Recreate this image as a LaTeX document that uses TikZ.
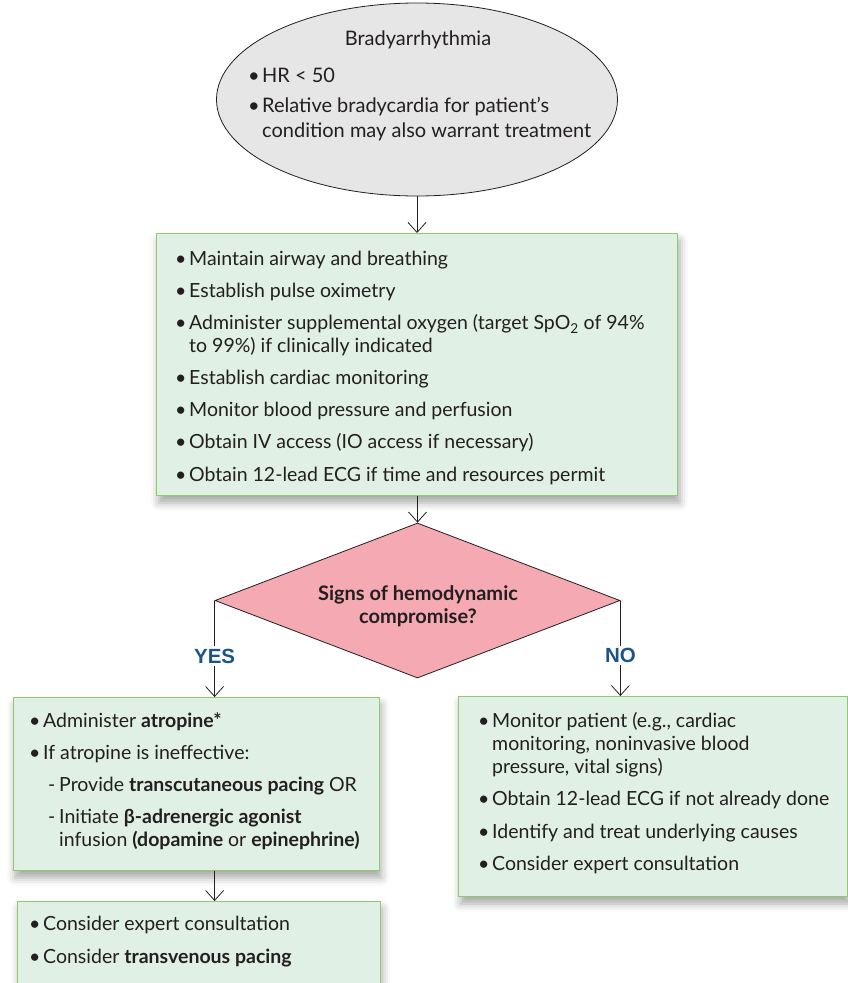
\documentclass[tikz,border=0pt]{standalone}
\usepackage{fontspec}
\setmainfont{Lato}
\newfontfamily\labelfont{Liberation Sans}
\usetikzlibrary{arrows.meta,shapes.geometric,shadows.blur}

\definecolor{ink}{HTML}{231F20}
\definecolor{boxfill}{HTML}{E1F0E4}
\definecolor{boxline}{HTML}{8FC970}
\definecolor{pinkfill}{HTML}{F5AAB3}
\definecolor{greyfill}{HTML}{E6E6E7}
\definecolor{labelblue}{HTML}{1B5487}

% list layout: #1 = font size, #2 = baseline skip, #3 = extra space between items (pt)
\newcommand\listfont[3]{\fontsize{#1}{#2}\selectfont\setlength\parskip{#3pt}\raggedright}
% bulleted item with hanging indent
\newcommand\itm[1]{\par\hangindent=14pt\hangafter=1\noindent\makebox[14pt][l]{•}#1}
% dashed sub-item
\newcommand\subitm[1]{\par\hangindent=30pt\hangafter=1\noindent\hspace*{19pt}\makebox[11pt][l]{-}#1}

\begin{document}
\begin{tikzpicture}[x=1pt,y=-1pt,
  box/.style={rectangle, draw=boxline, line width=1.3pt, fill=boxfill, anchor=north west, inner sep=0pt,
    blur shadow={shadow xshift=2pt, shadow yshift=-7pt, shadow blur radius=8pt, shadow opacity=35}},
  txt/.style={anchor=base west, inner sep=0pt, text=ink},
  arr/.style={draw=ink, line width=0.8pt, -{Straight Barb[length=10pt,width=18pt,line width=0.8pt]}},
  lbl/.style={fill=white, inner sep=2.5pt, text=labelblue, font=\labelfont\bfseries\fontsize{20.5}{22}\selectfont}
]
\useasboundingbox (0,0) rectangle (848,983);

% start: bradyarrhythmia
\node[ellipse, draw=ink, line width=0.8pt, fill=greyfill, minimum width=401pt, minimum height=193pt, inner sep=0pt] (ell) at (417,99.5) {};
\node[anchor=base, inner sep=0pt, text=ink, font=\fontsize{20}{24}\selectfont] (ttl) at (418,45.5) {Bradyarrhythmia};
\node[txt] (ellt) at (248,82) {\parbox[t]{380pt}{\listfont{20}{25}{5}
  \itm{HR < 50}
  \itm{Relative bradycardia for patient’s\newline condition may also warrant treatment}}};

% initial measures
\node[box, minimum width=521pt, minimum height=262pt] (b1) at (156,233) {};
\node[txt] (b1t) at (175,265.5) {\parbox[t]{500pt}{\listfont{19.5}{22.4}{9.8}
  \itm{Maintain airway and breathing}
  \itm{Establish pulse oximetry}
  \itm{Administer supplemental oxygen (target SpO\textsubscript{2} of 94\%\newline to 99\%) if clinically indicated}
  \itm{Establish cardiac monitoring}
  \itm{Monitor blood pressure and perfusion}
  \itm{Obtain IV access (IO access if necessary)}
  \itm{Obtain 12-lead ECG if time and resources permit}}};

% decision
\node[diamond, draw=ink, line width=0.8pt, fill=pinkfill, minimum width=405pt, minimum height=155pt, inner sep=0pt] (dia) at (417.5,600.5) {};
\node[anchor=base, inner sep=0pt, text=ink] (diat) at (418,600.7)
  {\parbox[t]{260pt}{\centering\bfseries\fontsize{20}{22.3}\selectfont Signs of hemodynamic\\compromise?}};

% YES branch
\node[box, minimum width=366pt, minimum height=173pt] (b2) at (12.7,697) {};
\node[txt] (b2t) at (29,727) {\parbox[t]{345pt}{\listfont{19.5}{23.5}{8.5}
  \itm{Administer \textbf{atropine*}}
  \itm{If atropine is ineffective:}
  \subitm{Provide \textbf{transcutaneous pacing} OR}
  \subitm{Initiate \textbf{β-adrenergic agonist}\newline infusion \textbf{(dopamine} or \textbf{epinephrine)}}}};

\node[box, minimum width=363pt, minimum height=110pt] (b4) at (16.7,901) {};
\node[txt] (b4t) at (29,930.7) {\parbox[t]{345pt}{\listfont{19.5}{22.5}{9.8}
  \itm{Consider expert consultation}
  \itm{Consider \textbf{transvenous pacing}}}};

% NO branch
\node[box, minimum width=389pt, minimum height=200pt] (b3) at (458,696) {};
\node[txt] (b3t) at (478,727) {\parbox[t]{365pt}{\listfont{19.5}{23}{9.5}
  \itm{Monitor patient (e.g., cardiac\newline monitoring, noninvasive blood\newline pressure, vital signs)}
  \itm{Obtain 12-lead ECG if not already done}
  \itm{Identify and treat underlying causes}
  \itm{Consider expert consultation}}};

% connectors
\draw[arr] (ell.south) -- (ell.south |- b1.north);
\draw[arr] (dia.north |- b1.south) -- (dia.north);
\draw[arr] (dia.west) -- node[lbl, pos=.575] (yes) {YES} (dia.west |- b2.north);
\draw[arr] (dia.east) -- node[lbl, pos=.575] (no) {NO} (dia.east |- b3.north);
\draw[arr] (dia.west |- b2.south) -- (dia.west |- b4.north);
\end{tikzpicture}
\end{document}
